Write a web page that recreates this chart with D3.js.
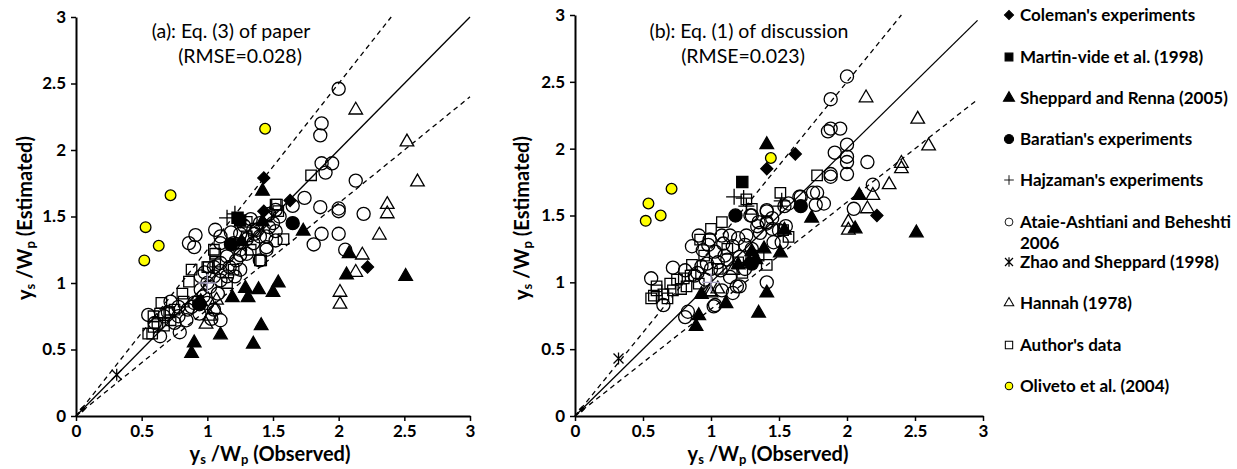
<!DOCTYPE html>
<html>
<head>
<meta charset="utf-8">
<script src="https://cdn.jsdelivr.net/npm/d3@7"></script>
<style>
  body { margin: 0; background: #fff; }
  text { font-family: Lato, "Open Sans", sans-serif; fill: #000; }
</style>
</head>
<body>
<svg id="chart" width="1237" height="469"></svg>
<script>
const tickValues = [0, 0.5, 1, 1.5, 2, 2.5, 3];
const legendNames = ["Coleman's experiments", "Martin-vide et al. (1998)", "Sheppard and Renna (2005)",
  "Baratian's experiments", "Hajzaman's experiments", "Ataie-Ashtiani and Beheshti", "Zhao and Sheppard (1998)",
  "Hannah (1978)", "Author's data", "Oliveto et al. (2004)"];

// ---- panel (a): Eq. (3) of paper ----
const colemanA = [[1.43,1.79],[1.63,1.62],[1.43,1.54],[2.22,1.12]];
const colemanTinyA = [[0.05,0.05]];
const martinA = [[1.23,1.49],[1.25,1.47]];
const sheppardA = [[1.42,1.69],[1.73,1.39],[2.08,1.22],[2.06,1.06],[2.51,1.05],[1.54,1.00],[1.50,0.93],
  [1.39,0.95],[1.29,0.96],[1.31,0.89],[1.19,0.89],[1.41,0.68],[1.10,0.61],[1.35,0.54],[0.90,0.55],
  [0.88,0.47],[0.95,0.86],[1.26,1.31],[1.42,1.46]];
const baratianA = [[1.65,1.45],[1.18,1.29],[0.94,0.84]];
const hajzamanA = [[1.15,1.49],[1.21,1.52],[1.25,1.47]];
const ataieA = [[2.00,2.46],[1.87,2.20],[1.86,2.11],[1.87,1.90],[1.95,1.90],[1.90,1.83],[2.13,1.77],
  [1.74,1.64],[1.65,1.58],[1.86,1.57],[2.00,1.56],[2.00,1.54],[2.19,1.52],[1.87,1.37],[2.00,1.37],
  [1.81,1.29],[2.05,1.25],[1.45,1.27],[0.91,1.36],[0.86,1.30],[0.90,1.27],[1.06,1.40],[1.10,1.35],
  [1.25,1.37],[1.35,1.40],[1.40,1.45],[1.45,1.35],[1.52,1.32],[1.30,1.22],[1.22,1.17],[1.40,1.17],
  [1.45,1.25],[1.10,1.09],[1.17,1.12],[1.21,1.05],[1.10,1.02],[1.02,0.97],[1.08,0.92],[0.97,0.90],
  [0.88,0.82],[0.94,0.77],[0.72,0.86],[0.55,0.76],[0.67,0.75],[0.78,0.75],[0.84,0.72],[0.79,0.63],
  [0.64,0.60],[1.03,0.73],[1.10,0.72],[1.52,1.39],[1.36,1.37],[1.15,1.20],[1.25,1.25],[1.30,1.33],
  [1.35,1.30],[1.38,1.40],[1.47,1.42],[1.50,1.45],[1.55,1.50],[1.20,1.30],[1.10,1.15],[1.05,1.05],
  [1.15,1.05],[1.25,1.10],[0.95,0.95],[0.90,0.85],[1.00,0.85],[1.05,0.80],[0.75,0.70],[0.70,0.78],
  [0.60,0.70],[0.85,0.80],[0.78,0.82],[0.95,1.05],[1.00,1.00],[1.28,1.43],[1.33,1.48],[1.40,1.35],
  [1.52,1.55],[1.47,1.52],[1.25,1.21],[1.10,1.30],[1.18,1.38],[1.05,1.12],[0.98,1.08]];
const zhaoA = [[0.31,0.31]];
const hannahA = [[2.13,2.30],[2.52,2.06],[2.60,1.76],[2.37,1.59],[2.37,1.52],[2.31,1.36],[2.18,1.21],
  [2.13,1.08],[2.01,0.93],[2.01,0.84],[0.99,0.69],[1.06,0.80],[1.07,0.87],[1.02,0.75]];
const authorA = [[1.79,1.81],[1.52,1.59],[1.54,1.54],[1.53,1.59],[1.58,1.33],[1.40,1.17],[1.41,1.17],
  [1.30,1.46],[1.33,1.25],[1.25,1.30],[1.06,1.22],[1.06,1.16],[0.88,1.10],[1.01,1.12],[0.86,1.01],
  [0.81,0.92],[0.82,0.86],[0.65,0.85],[0.64,0.77],[0.59,0.75],[0.59,0.67],[0.55,0.62],[0.67,0.68],
  [0.58,0.62],[0.71,0.78],[0.75,0.80],[1.00,1.12],[1.05,1.25],[1.20,1.10],[1.15,1.00],[1.30,1.35],
  [1.45,1.50],[0.93,0.86],[0.72,0.72],[0.62,0.70]];
const olivetoA = [[1.44,2.16],[0.72,1.66],[0.53,1.42],[0.63,1.28],[0.52,1.17]];
const greyPlusA = [[1.00,1.00]];

// ---- panel (b): Eq. (1) of discussion ----
const colemanB = [[1.62,1.96],[1.41,1.85],[2.22,1.50]];
const colemanTinyB = [[0.05,0.05]];
const martinB = [[1.23,1.75]];
const sheppardB = [[1.41,2.03],[2.09,1.65],[1.74,1.48],[1.54,1.39],[2.06,1.40],[2.51,1.37],[1.51,1.22],
  [1.39,1.25],[1.30,1.23],[1.41,0.92],[1.35,0.77],[1.11,0.84],[0.93,0.91],[0.91,0.75],[0.89,0.67],
  [1.28,1.15],[1.20,1.13],[1.33,1.17]];
const baratianB = [[1.66,1.57],[1.18,1.50],[1.30,1.14]];
const hajzamanB = [[1.17,1.64],[1.24,1.63],[1.26,1.57],[1.51,1.57],[1.52,1.61]];
const ataieB = [[2.00,2.54],[1.88,2.37],[1.88,2.15],[1.95,2.15],[1.86,2.13],[1.91,1.97],[2.00,2.03],
  [2.00,1.94],[2.00,1.90],[2.00,1.81],[1.88,1.79],[1.88,1.81],[2.15,1.90],[2.19,1.73],[2.05,1.55],
  [1.83,1.59],[1.75,1.67],[1.66,1.64],[1.57,1.59],[1.41,1.53],[1.41,1.45],[1.45,1.48],[1.52,1.30],
  [1.55,1.42],[1.65,1.64],[1.41,1.54],[1.30,1.50],[1.34,1.42],[1.41,1.44],[1.46,1.30],[1.36,1.37],
  [1.26,1.35],[1.14,1.35],[1.09,1.29],[0.99,1.32],[0.91,1.35],[0.86,1.27],[0.94,1.24],[1.03,1.23],
  [1.16,1.27],[1.21,1.19],[1.12,1.17],[0.97,1.14],[1.07,1.09],[1.14,1.04],[1.19,0.97],[1.08,0.94],
  [0.96,1.02],[0.90,1.07],[0.81,1.09],[0.72,1.11],[0.56,1.03],[0.65,0.83],[0.81,0.74],[0.83,0.78],
  [1.03,0.83],[1.41,1.00],[1.77,1.58],[1.78,1.67],[1.29,1.50],[1.50,1.39],[1.54,1.57],[1.16,0.92],
  [1.21,0.97],[1.02,0.82],[1.00,1.10],[1.10,1.20],[1.25,1.28],[1.30,1.25],[1.05,1.15],[0.93,1.12],
  [1.20,1.33],[1.35,1.45],[1.45,1.40],[1.25,1.10],[0.98,1.28],[1.08,1.35],[0.88,1.05]];
const zhaoB = [[0.32,0.43]];
const hannahB = [[2.14,2.38],[2.52,2.22],[2.60,2.02],[2.40,1.89],[2.40,1.85],[2.31,1.73],[2.19,1.65],
  [2.15,1.55],[2.01,1.45],[2.01,1.39],[1.00,0.92],[1.16,1.09],[0.99,0.93],[1.05,0.95]];
const authorB = [[1.78,1.80],[1.51,1.67],[1.53,1.39],[1.57,1.34],[1.41,1.13],[1.23,1.07],[1.08,1.45],
  [1.00,1.40],[0.92,1.32],[0.86,1.13],[0.82,0.97],[0.80,1.03],[0.75,1.02],[0.70,0.99],[0.60,0.97],
  [0.56,0.88],[0.65,0.91],[0.72,0.94],[0.91,0.99],[0.60,0.94],[0.58,0.90],[0.68,0.88],[1.26,1.62],
  [1.30,1.55],[1.12,1.25],[1.05,1.10],[0.95,1.20],[1.20,1.15],[1.35,1.20],[0.85,1.05],[0.78,0.95]];
const olivetoB = [[1.44,1.93],[0.71,1.70],[0.54,1.59],[0.63,1.50],[0.52,1.46]];
const greyPlusB = [[1.00,1.00]];

const svg = d3.select('#chart');

const plusPath = (s) => `M${-s},0H${s}M0,${-s}V${s}`;
const starPath = (s) => `M${-s},${-s}L${s},${s}M${-s},${s}L${s},${-s}M0,${-s * 1.2}V${s * 1.2}`;

// marker styles, keyed by series
const styles = {
  author:   { d: d3.symbol(d3.symbolSquare, 110)(), fill: 'none', stroke: '#000' },
  ataie:    { d: d3.symbol(d3.symbolCircle, 135)(), fill: 'none', stroke: '#000' },
  hannah:   { d: d3.symbol(d3.symbolTriangle, 80)(), fill: 'none', stroke: '#000' },
  sheppard: { d: d3.symbol(d3.symbolTriangle, 80)(), fill: '#000', stroke: '#000' },
  zhao:     { d: starPath(5), fill: 'none', stroke: '#000' },
  hajzaman: { d: plusPath(8), fill: 'none', stroke: '#000' },
  grey:     { d: plusPath(9), fill: 'none', stroke: '#a8a2c2' },
  baratian: { d: d3.symbol(d3.symbolCircle, 135)(), fill: '#000', stroke: '#000' },
  martin:   { d: d3.symbol(d3.symbolSquare, 125)(), fill: '#000', stroke: '#000' },
  coleman:  { d: d3.symbol(d3.symbolSquare, 72)(), fill: '#000', stroke: '#000', rot: 45 },
  tiny:     { d: d3.symbol(d3.symbolSquare, 10)(), fill: '#000', stroke: '#000', rot: 45 },
  oliveto:  { d: d3.symbol(d3.symbolCircle, 90)(), fill: '#ffff00', stroke: '#000' }
};

function drawPanel(p) {
  const x = d3.scaleLinear().domain([0, 3]).range([p.left, p.right]);
  const y = d3.scaleLinear().domain([0, 3]).range([p.bottom, p.top]);
  const g = svg.append('g');

  // reference lines: 1:1 and +/- bands
  const line = d3.line().x(d => x(d[0])).y(d => y(d[1]));
  g.append('path').attr('d', line([[0, 0], [p.lineEnd, p.lineEnd]]))
    .attr('stroke', '#000').attr('stroke-width', 1.3).attr('fill', 'none');
  g.append('path').attr('d', line([[0, 0], [3 / 1.25, 3]]))
    .attr('stroke', '#000').attr('stroke-width', 1.3).attr('stroke-dasharray', '5,4').attr('fill', 'none');
  g.append('path').attr('d', line([[0, 0], [p.lineEnd, p.lineEnd * 0.8]]))
    .attr('stroke', '#000').attr('stroke-width', 1.3).attr('stroke-dasharray', '5,4').attr('fill', 'none');

  p.series.forEach(s => {
    const st = styles[s.key];
    g.append('g').selectAll('path').data(s.pts).enter().append('path')
      .attr('d', st.d)
      .attr('transform', d => `translate(${x(d[0])},${y(d[1])})` + (st.rot ? ` rotate(${st.rot})` : ''))
      .attr('fill', st.fill).attr('stroke', st.stroke).attr('stroke-width', 1.3);
  });

  const xAxis = g.append('g').attr('transform', `translate(0,${p.bottom})`)
    .call(d3.axisBottom(x).tickValues(tickValues).tickSize(5).tickSizeOuter(0).tickPadding(4).tickFormat(d3.format('')));
  const yAxis = g.append('g').attr('transform', `translate(${p.left},0)`)
    .call(d3.axisLeft(y).tickValues(tickValues).tickSize(5).tickSizeOuter(0).tickPadding(5).tickFormat(d3.format('')));
  [xAxis, yAxis].forEach(a => {
    a.attr('font-family', 'Lato').attr('font-size', 17).attr('font-weight', 'bold');
    a.select('.domain').attr('stroke-width', 2);
    a.selectAll('.tick line').attr('stroke-width', 1.5);
    a.selectAll('.tick text').style('font-size', '17px').style('font-weight', 'bold');
  });

  // titles
  g.append('text').attr('x', p.titleX).attr('y', 38).attr('text-anchor', 'middle')
    .style('font-size', '19.5px').text(p.title);
  g.append('text').attr('x', p.titleX2).attr('y', 63).attr('text-anchor', 'middle')
    .style('font-size', '19.5px').text(p.rmse);

  // axis labels
  const lab = (sel, tail) => {
    sel.style('font-size', '20px').style('font-weight', 'bold');
    sel.append('tspan').text('y');
    sel.append('tspan').attr('dy', 3).style('font-size', '13px').text('s');
    sel.append('tspan').attr('dy', -3).text(' /W');
    sel.append('tspan').attr('dy', 3).style('font-size', '13px').text('p');
    sel.append('tspan').attr('dy', -3).text(tail);
  };
  g.append('text').attr('x', p.xLabelX).attr('y', 461).attr('text-anchor', 'middle')
    .call(lab, ' (Observed)');
  g.append('text').attr('transform', `translate(${p.yLabelX},218) rotate(-90)`).attr('text-anchor', 'middle')
    .call(lab, ' (Estimated)');
}

drawPanel({
  left: 76, right: 470, top: 17, bottom: 416, lineEnd: 3,
  title: '(a): Eq. (3) of paper', rmse: '(RMSE=0.028)', titleX: 231, titleX2: 240,
  xLabelX: 270, yLabelX: 32,
  series: [
    { key: 'author', pts: authorA }, { key: 'ataie', pts: ataieA }, { key: 'hannah', pts: hannahA },
    { key: 'sheppard', pts: sheppardA }, { key: 'zhao', pts: zhaoA }, { key: 'hajzaman', pts: hajzamanA },
    { key: 'grey', pts: greyPlusA }, { key: 'baratian', pts: baratianA }, { key: 'martin', pts: martinA },
    { key: 'coleman', pts: colemanA }, { key: 'tiny', pts: colemanTinyA }, { key: 'oliveto', pts: olivetoA }
  ]
});

drawPanel({
  left: 575, right: 983, top: 15, bottom: 416, lineEnd: 2.96,
  title: '(b): Eq. (1) of discussion', rmse: '(RMSE=0.023)', titleX: 749, titleX2: 743,
  xLabelX: 768, yLabelX: 529,
  series: [
    { key: 'author', pts: authorB }, { key: 'ataie', pts: ataieB }, { key: 'hannah', pts: hannahB },
    { key: 'sheppard', pts: sheppardB }, { key: 'zhao', pts: zhaoB }, { key: 'hajzaman', pts: hajzamanB },
    { key: 'grey', pts: greyPlusB }, { key: 'baratian', pts: baratianB }, { key: 'martin', pts: martinB },
    { key: 'coleman', pts: colemanB }, { key: 'tiny', pts: colemanTinyB }, { key: 'oliveto', pts: olivetoB }
  ]
});

// legend
const legendKeys = ['coleman', 'martin', 'sheppard', 'baratian', 'hajzaman', 'ataie', 'zhao', 'hannah', 'author', 'oliveto'];
const legendY = [15, 57, 98, 139, 180, 222, 262, 303, 345, 386];
const legendScale = { coleman: 0.75, martin: 0.7, sheppard: 0.8, baratian: 0.7, hajzaman: 0.6,
  ataie: 0.6, zhao: 0.8, hannah: 0.7, author: 0.7, oliveto: 0.7 };
const lg = svg.append('g');
legendKeys.forEach((k, i) => {
  const st = styles[k];
  lg.append('path').attr('d', st.d)
    .attr('transform', `translate(1009,${legendY[i]}) scale(${legendScale[k]})` + (st.rot ? ` rotate(${st.rot})` : ''))
    .attr('fill', st.fill).attr('stroke', st.stroke).attr('stroke-width', 1.5);
  lg.append('text').attr('x', 1020).attr('y', legendY[i] + 6)
    .style('font-size', '17px').style('font-weight', 'bold').text(legendNames[i]);
});
lg.append('text').attr('x', 1020).attr('y', 249).style('font-size', '17px').style('font-weight', 'bold').text('2006');
</script>
</body>
</html>
